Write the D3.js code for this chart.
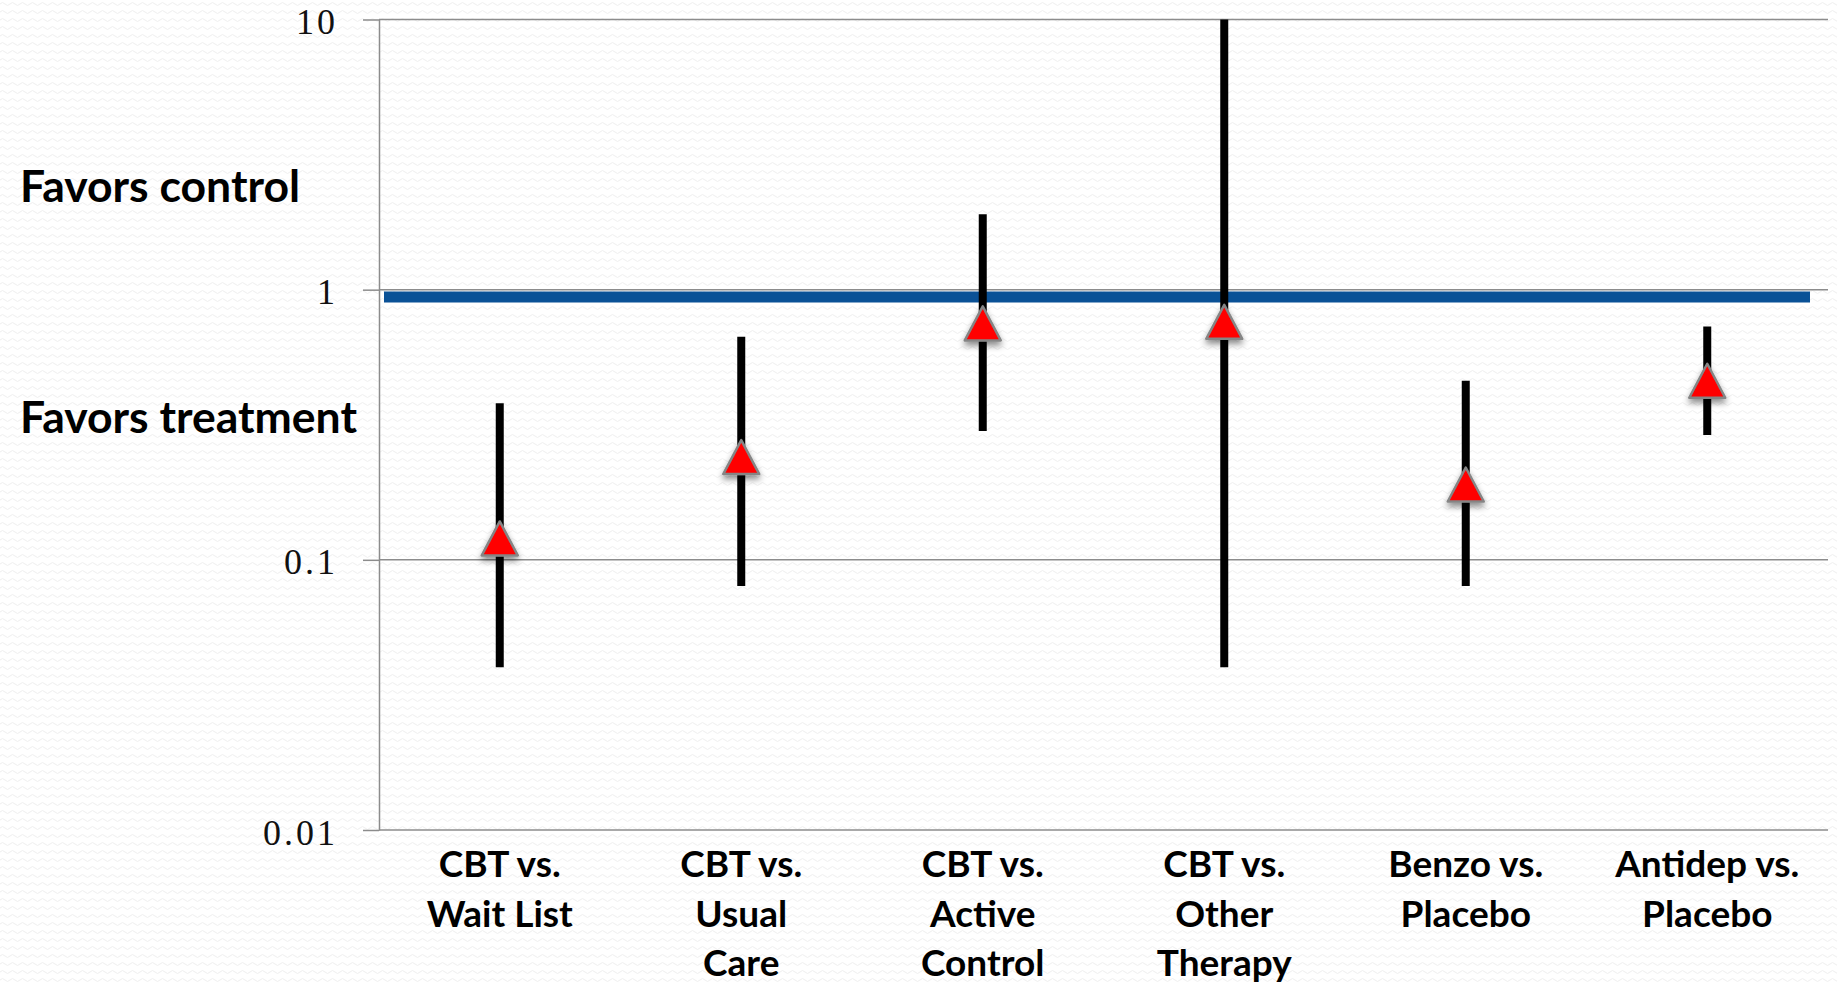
<!DOCTYPE html>
<html>
<head>
<meta charset="utf-8">
<script src="https://cdn.jsdelivr.net/npm/d3@7"></script>
<style>
  html, body { margin: 0; padding: 0; background: #ffffff; }
  svg { display: block; }
</style>
</head>
<body>
<svg id="chart" width="1837" height="985"></svg>
<script>
// ---- data ----
const categories = [
  ["CBT vs.", "Wait List"],
  ["CBT vs.", "Usual", "Care"],
  ["CBT vs.", "Active", "Control"],
  ["CBT vs.", "Other", "Therapy"],
  ["Benzo vs.", "Placebo"],
  ["Antidep vs.", "Placebo"]
];
const estimates = [0.12, 0.24, 0.75, 0.76, 0.19, 0.46];
const lowerCI   = [0.04, 0.08, 0.30, 0.04, 0.08, 0.29];
const upperCI   = [0.38, 0.67, 1.90, 10, 0.46, 0.73];
const tickValues = [0.01, 0.1, 1, 10];
const tickLabels = ["0.01", "0.1", "1", "10"];
const refValue = 0.94;
const sideLabels = ["Favors control", "Favors treatment"];

// ---- layout ----
const svg = d3.select("#chart");
const W = 1837, H = 985;
const plotLeft = 379, plotRight = 1828, plotTop = 19.5, plotBottom = 830;

// background texture
const defs = svg.append("defs");
const pat = defs.append("pattern").attr("id", "bgtex")
  .attr("patternUnits", "userSpaceOnUse").attr("width", 10).attr("height", 8);
pat.append("rect").attr("width", 10).attr("height", 8).attr("fill", "#ffffff");
pat.append("path").attr("d", "M0,4 Q2.5,1 5,4 T10,4")
  .attr("fill", "none").attr("stroke", "#efefef").attr("stroke-width", 1);

const shadow = defs.append("filter").attr("id", "shadow")
  .attr("x", "-50%").attr("y", "-50%").attr("width", "200%").attr("height", "200%");
shadow.append("feDropShadow").attr("dx", 0).attr("dy", 4).attr("stdDeviation", 3)
  .attr("flood-color", "#000").attr("flood-opacity", 0.45);

svg.append("rect").attr("width", W).attr("height", H).attr("fill", "url(#bgtex)");

const x = d3.scaleBand().domain(d3.range(categories.length))
  .range([plotLeft, plotRight]);
const y = d3.scaleLog().domain([0.01, 10]).range([plotBottom, plotTop]);

// grid lines
svg.append("g").selectAll("line").data(tickValues).join("line")
  .attr("x1", plotLeft).attr("x2", plotRight)
  .attr("y1", d => y(d)).attr("y2", d => y(d))
  .attr("stroke", "#8c8c8c").attr("stroke-width", 1.5);

// y axis
const yAxis = d3.axisLeft(y).tickValues(tickValues).tickSize(16).tickSizeOuter(0)
  .tickPadding(30).tickFormat((d, i) => tickLabels[i]);
const gy = svg.append("g").attr("transform", `translate(${plotLeft},0)`).call(yAxis);
gy.select(".domain").attr("stroke", "#8c8c8c").attr("stroke-width", 1.5);
gy.selectAll(".tick line").attr("stroke", "#8c8c8c").attr("stroke-width", 1.5);
gy.selectAll(".tick text")
  .attr("font-family", "'Liberation Serif', 'DejaVu Serif', serif")
  .attr("font-size", 36).attr("fill", "#111").attr("letter-spacing", 3)
  .attr("dy", 14).attr("dx", 5);

// reference line
svg.append("line")
  .attr("x1", plotLeft + 5).attr("x2", plotRight - 18)
  .attr("y1", y(refValue)).attr("y2", y(refValue))
  .attr("stroke", "#0a5196").attr("stroke-width", 11);

// error bars
const cx = i => x(i) + x.bandwidth() / 2;
svg.append("g").selectAll("line").data(d3.range(categories.length)).join("line")
  .attr("x1", cx).attr("x2", cx)
  .attr("y1", i => y(upperCI[i])).attr("y2", i => y(lowerCI[i]))
  .attr("stroke", "#000").attr("stroke-width", 8);

// triangle markers
const tw = 36, th = 34;
svg.append("g").selectAll("path").data(d3.range(categories.length)).join("path")
  .attr("d", i => {
    const px = cx(i), py = y(estimates[i]);
    return `M${px},${py - th / 2}L${px + tw / 2},${py + th / 2}L${px - tw / 2},${py + th / 2}Z`;
  })
  .attr("fill", "#ff0000").attr("stroke", "#858585").attr("stroke-width", 2.5)
  .attr("stroke-linejoin", "round")
  .attr("filter", "url(#shadow)");

// category labels
const labelFont = "Lato, 'Open Sans', 'Noto Sans', sans-serif";
const gl = svg.append("g");
categories.forEach((lines, i) => {
  const t = gl.append("text")
    .attr("x", cx(i)).attr("y", 877)
    .attr("text-anchor", "middle")
    .attr("font-family", labelFont).attr("font-weight", 700)
    .attr("font-size", 37).attr("fill", "#000");
  lines.forEach((ln, j) => {
    t.append("tspan").attr("x", cx(i)).attr("dy", j === 0 ? 0 : 49.5).text(ln);
  });
});

// side annotations
svg.append("text").attr("x", 20).attr("y", 202)
  .attr("font-family", labelFont).attr("font-weight", 700)
  .attr("font-size", 44.5).attr("fill", "#000").text(sideLabels[0]);
svg.append("text").attr("x", 20).attr("y", 433)
  .attr("font-family", labelFont).attr("font-weight", 700)
  .attr("font-size", 44.5).attr("fill", "#000").text(sideLabels[1]);
</script>
</body>
</html>
